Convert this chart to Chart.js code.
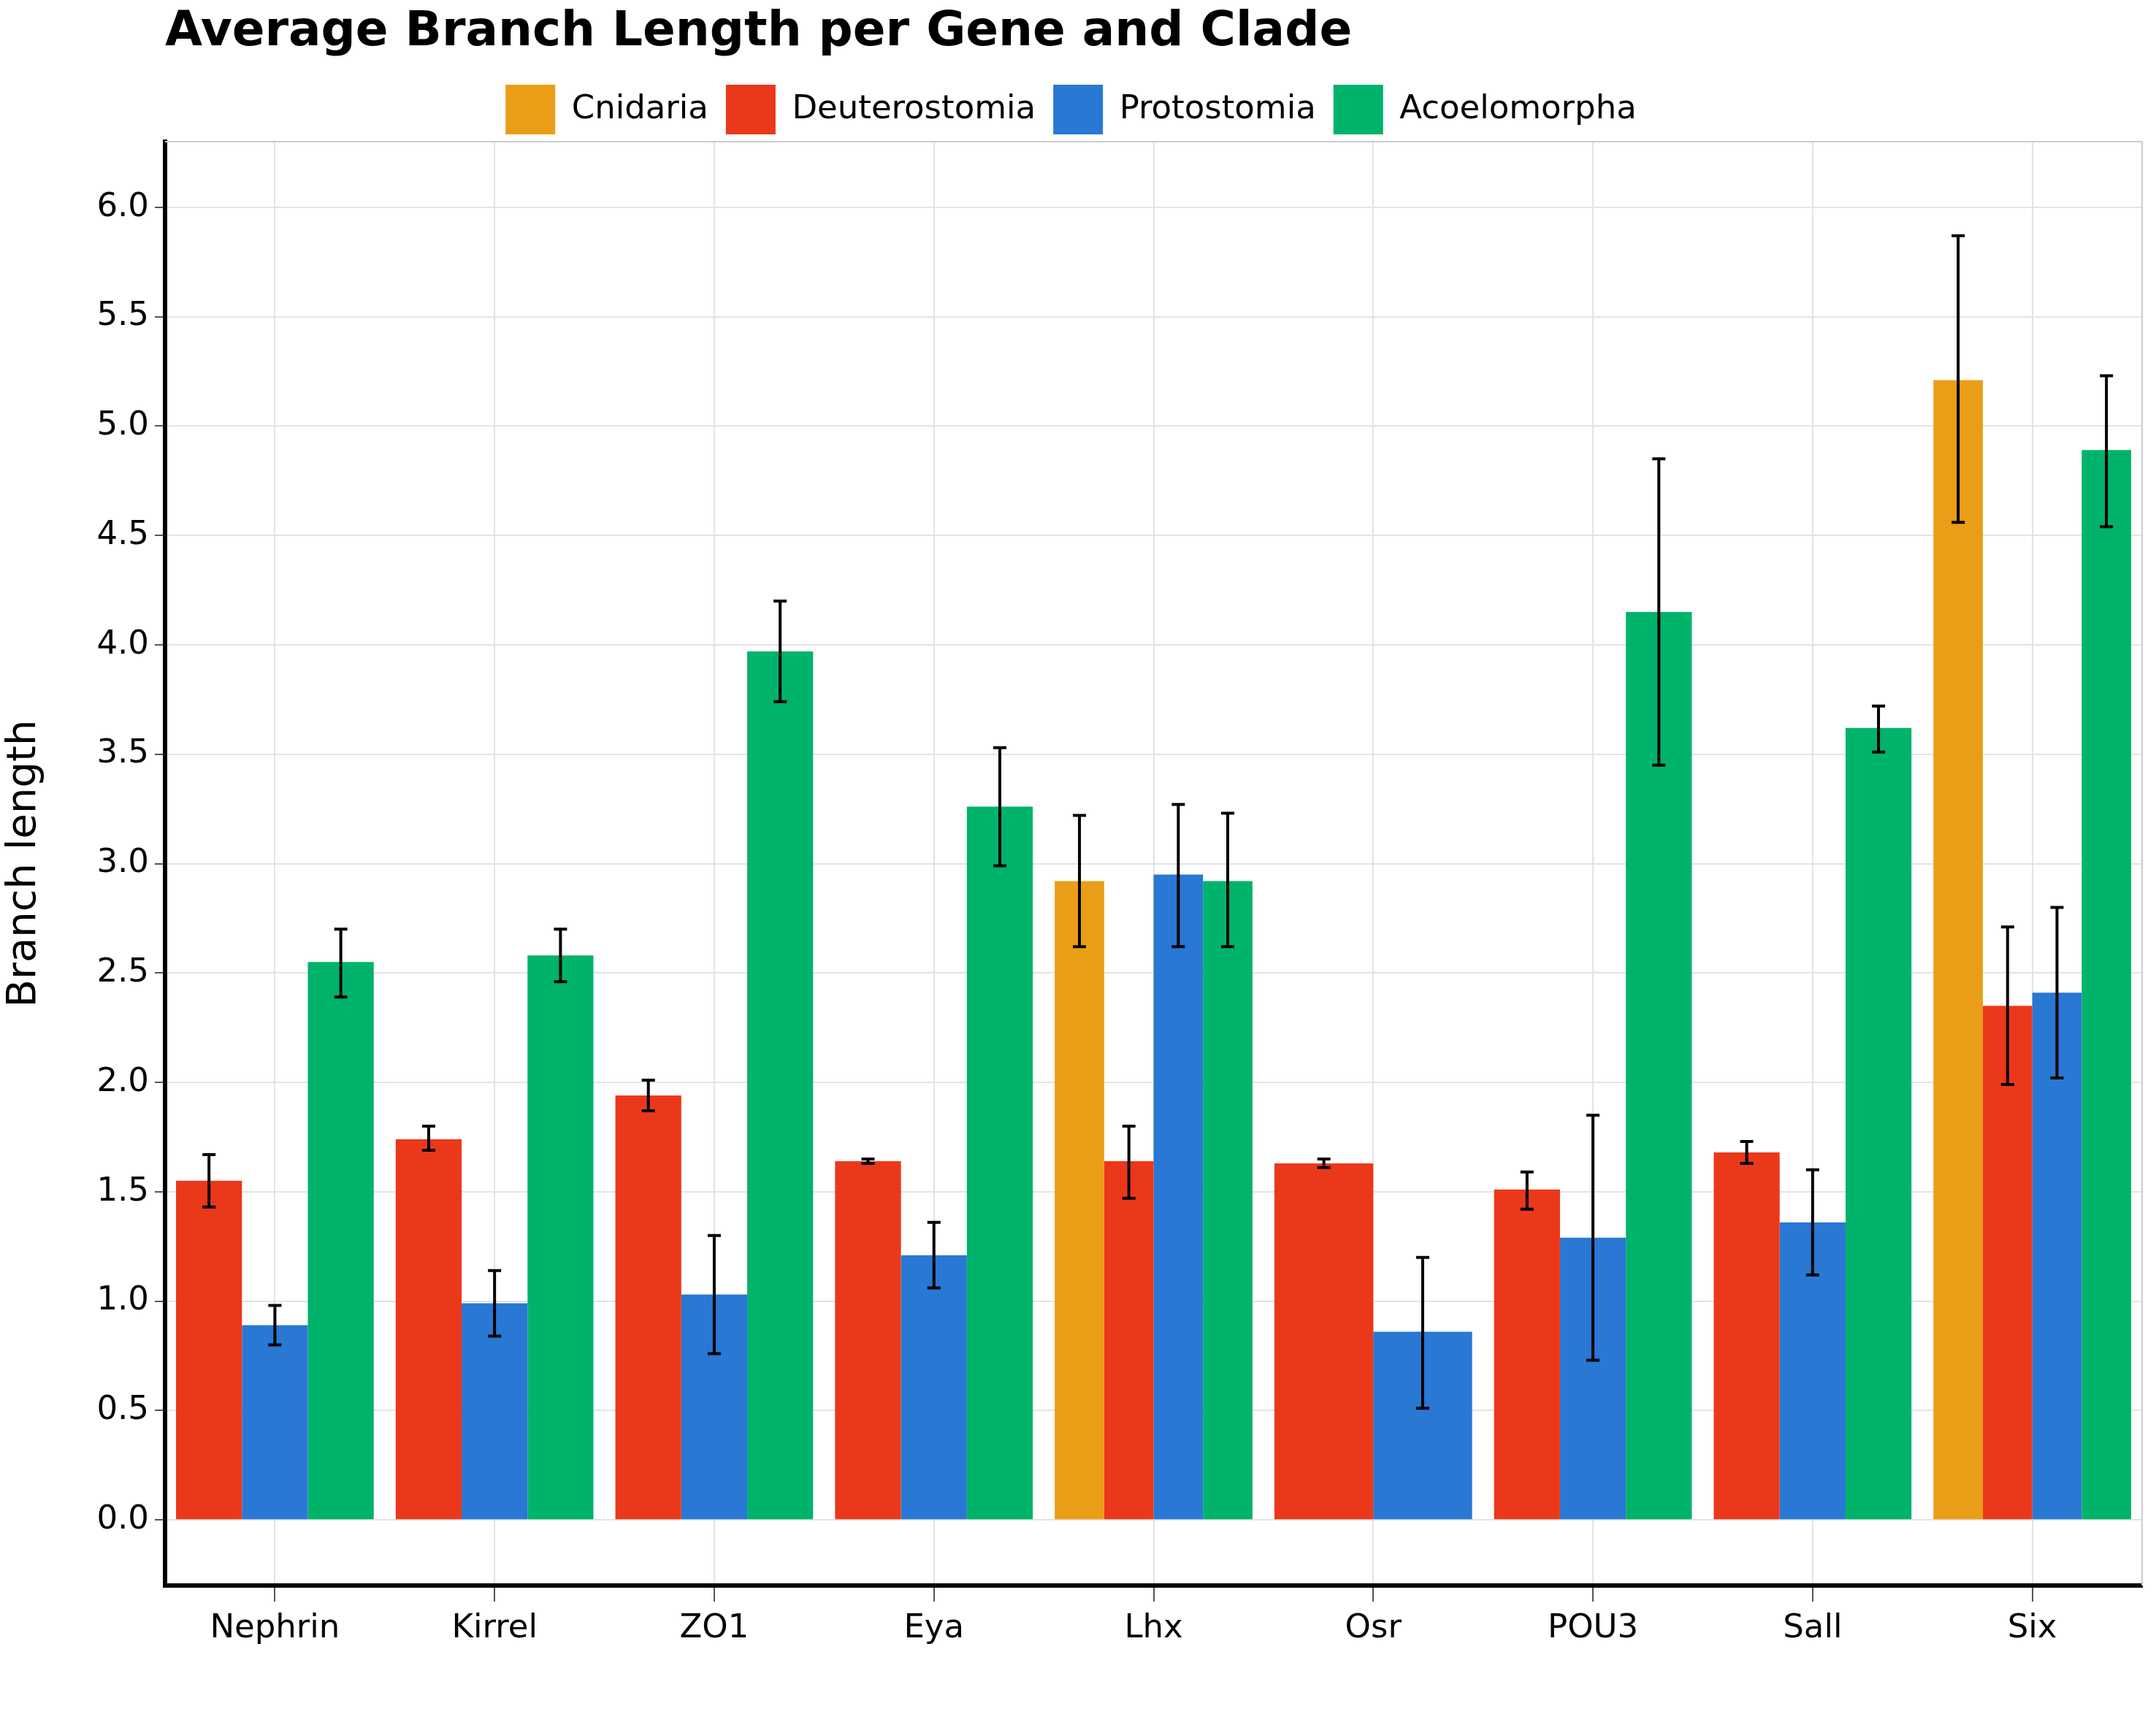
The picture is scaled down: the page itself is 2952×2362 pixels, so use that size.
<!DOCTYPE html>
<html>
<head>
<meta charset="utf-8">
<script src="https://cdn.jsdelivr.net/npm/chart.js@4"></script>
<style>
  html, body { margin: 0; padding: 0; background: #fff; }
  canvas { display: block; }
</style>
</head>
<body>
<canvas id="chart" width="2952" height="2362" style="width:2952px;height:2362px"></canvas>
<script>
"use strict";
// genes and clades
var genes = ["Nephrin", "Kirrel", "ZO1", "Eya", "Lhx", "Osr", "POU3", "Sall", "Six"];
var clades = ["Cnidaria", "Deuterostomia", "Protostomia", "Acoelomorpha"];
var colors = ["#EA9E17", "#EB381A", "#2878D4", "#00B36A"];

// mean branch length per clade (null = not sampled)
var cnidaria      = [null, null, null, null, 2.92, null, null, null, 5.21];
var deuterostomia = [1.55, 1.74, 1.94, 1.64, 1.64, 1.63, 1.51, 1.68, 2.35];
var protostomia   = [0.89, 0.99, 1.03, 1.21, 2.95, 0.86, 1.29, 1.36, 2.41];
var acoelomorpha  = [2.55, 2.58, 3.97, 3.26, 2.92, null, 4.15, 3.62, 4.89];

// error bar ends
var cnidariaLo      = [null, null, null, null, 2.62, null, null, null, 4.56];
var cnidariaHi      = [null, null, null, null, 3.22, null, null, null, 5.87];
var deuterostomiaLo = [1.43, 1.69, 1.87, 1.63, 1.47, 1.61, 1.42, 1.63, 1.99];
var deuterostomiaHi = [1.67, 1.80, 2.01, 1.65, 1.80, 1.65, 1.59, 1.73, 2.71];
var protostomiaLo   = [0.80, 0.84, 0.76, 1.06, 2.62, 0.51, 0.73, 1.12, 2.02];
var protostomiaHi   = [0.98, 1.14, 1.30, 1.36, 3.27, 1.20, 1.85, 1.60, 2.80];
var acoelomorphaLo  = [2.39, 2.46, 3.74, 2.99, 2.62, null, 3.45, 3.51, 4.54];
var acoelomorphaHi  = [2.70, 2.70, 4.20, 3.53, 3.23, null, 4.85, 3.72, 5.23];

var yTicks = [0, 0.5, 1, 1.5, 2, 2.5, 3, 3.5, 4, 4.5, 5, 5.5, 6];

var values = [cnidaria, deuterostomia, protostomia, acoelomorpha];
var lows = [cnidariaLo, deuterostomiaLo, protostomiaLo, acoelomorphaLo];
var highs = [cnidariaHi, deuterostomiaHi, protostomiaHi, acoelomorphaHi];

var FONT = "'DejaVu Sans', sans-serif";

var errorBars = {
    id: "errorBars",
    afterDatasetsDraw: function (chart) {
        var ctx = chart.ctx;
        var y = chart.scales.y;
        ctx.save();
        ctx.strokeStyle = "#000";
        ctx.lineWidth = 4;
        chart.data.datasets.forEach(function (ds, i) {
            var meta = chart.getDatasetMeta(i);
            meta.data.forEach(function (bar, j) {
                if (ds.data[j] === null) return;
                var lo = y.getPixelForValue(lows[i][j]);
                var hi = y.getPixelForValue(highs[i][j]);
                ctx.beginPath();
                ctx.moveTo(bar.x, lo); ctx.lineTo(bar.x, hi);
                ctx.moveTo(bar.x - 9, lo); ctx.lineTo(bar.x + 9, lo);
                ctx.moveTo(bar.x - 9, hi); ctx.lineTo(bar.x + 9, hi);
                ctx.stroke();
            });
        });
        ctx.restore();
    }
};

var frame = {
    id: "frame",
    beforeDraw: function (chart) {
        var ctx = chart.ctx;
        ctx.save();
        ctx.fillStyle = "#fff";
        ctx.fillRect(0, 0, chart.width, chart.height);
        ctx.fillStyle = "#000";
        ctx.font = "bold 66px " + FONT;
        ctx.textBaseline = "middle";
        ctx.fillText("Average Branch Length per Gene and Clade", 226, 45);
        ctx.restore();
    },
    afterDatasetsDraw: function (chart) {
        var a = chart.chartArea;
        var ctx = chart.ctx;
        ctx.save();
        ctx.strokeStyle = "#cccccc";
        ctx.lineWidth = 2;
        ctx.beginPath();
        ctx.moveTo(a.left, a.top); ctx.lineTo(a.right, a.top); ctx.lineTo(a.right, a.bottom);
        ctx.stroke();
        ctx.restore();
    }
};

new Chart(document.getElementById("chart"), {
    type: "bar",
    data: {
        labels: genes,
        datasets: clades.map(function (c, i) {
            return { label: c, data: values[i], backgroundColor: colors[i], borderWidth: 0 };
        })
    },
    plugins: [frame, errorBars],
    options: {
        responsive: false,
        animation: false,
        devicePixelRatio: 1,
        skipNull: true,
        categoryPercentage: 0.9,
        barPercentage: 1.0,
        layout: { padding: { top: 92, left: 0, right: 19, bottom: 0 } },
        plugins: {
            title: { display: false },
            tooltip: { enabled: false },
            legend: {
                display: true,
                position: "top",
                align: "center",
                labels: {
                    color: "#000",
                    font: { family: FONT, size: 45 },
                    boxWidth: 68,
                    boxHeight: 68,
                    padding: 24
                }
            }
        },
        scales: {
            x: {
                grid: { offset: false, color: "#e3e3e3", lineWidth: 2, tickLength: 22, tickColor: "#555" },
                border: { color: "#000", width: 6 },
                ticks: { color: "#000", font: { family: FONT, size: 45 }, padding: 10 },
                afterFit: function (s) { s.height = 191; }
            },
            y: {
                min: -0.3,
                max: 6.3,
                afterBuildTicks: function (s) { s.ticks = yTicks.map(function (v) { return { value: v }; }); },
                grid: { color: "#e3e3e3", lineWidth: 2, tickLength: 14, tickColor: "#555" },
                border: { color: "#000", width: 6 },
                ticks: {
                    color: "#000",
                    font: { family: FONT, size: 45 },
                    padding: 8,
                    callback: function (v) { return Number(v).toFixed(1); }
                },
                title: { display: true, text: "Branch length", color: "#000", font: { family: FONT, size: 56 }, padding: 0 },
                afterFit: function (s) { s.width = 226; }
            }
        }
    }
});
</script>
</body>
</html>
